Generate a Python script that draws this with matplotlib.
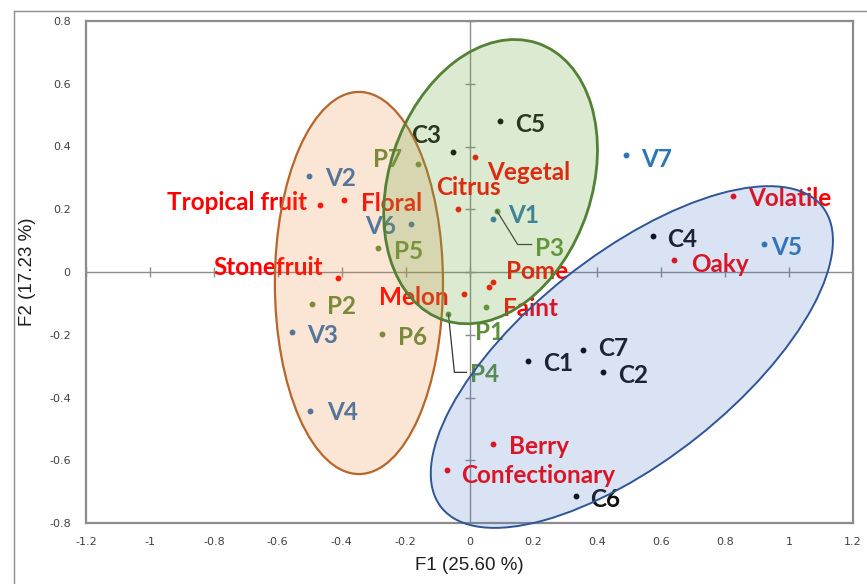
import numpy as np
import matplotlib
matplotlib.use("Agg")
import matplotlib.pyplot as plt
from matplotlib.patches import Ellipse
from matplotlib.lines import Line2D

# sensory attributes (red)
attr_names = ["Tropical fruit", "Floral", "Stonefruit", "Citrus", "Vegetal", "Pome",
              "Faint", "Melon", "Oaky", "Volatile", "Berry", "Confectionary"]
attr_x = [-0.468, -0.392, -0.412, -0.035, 0.017, 0.075, 0.061, -0.016, 0.641, 0.823, 0.073, -0.071]
attr_y = [0.214, 0.229, -0.020, 0.200, 0.368, -0.031, -0.047, -0.071, 0.038, 0.243, -0.548, -0.631]

# V products (blue)
v_names = ["V1", "V2", "V3", "V4", "V5", "V6", "V7"]
v_x = [0.075, -0.502, -0.556, -0.499, 0.922, -0.183, 0.490]
v_y = [0.168, 0.306, -0.192, -0.443, 0.089, 0.152, 0.372]

# P products (green)
p_names = ["P1", "P2", "P3", "P4", "P5", "P6", "P7"]
p_x = [0.051, -0.492, 0.085, -0.066, -0.285, -0.275, -0.162]
p_y = [-0.113, -0.102, 0.196, -0.135, 0.075, -0.199, 0.343]

# C products (black)
c_names = ["C1", "C2", "C3", "C4", "C5", "C6", "C7"]
c_x = [0.184, 0.419, -0.051, 0.573, 0.095, 0.332, 0.354]
c_y = [-0.283, -0.318, 0.383, 0.115, 0.481, -0.714, -0.249]

xticks = [-1.2, -1, -0.8, -0.6, -0.4, -0.2, 0, 0.2, 0.4, 0.6, 0.8, 1, 1.2]
yticks = [-0.8, -0.6, -0.4, -0.2, 0, 0.2, 0.4, 0.6, 0.8]

# label offsets in pixels (dx, dy, ha)
offsets = {
    "Tropical fruit": (-13, 4, "right"), "Floral": (17, -1, "left"),
    "Stonefruit": (-15, 13, "right"), "Citrus": (10, 24, "center"),
    "Vegetal": (12, -14, "left"), "Pome": (13, 12, "left"),
    "Faint": (14, -20, "left"), "Melon": (-16, -1, "right"),
    "Oaky": (17, -2, "left"), "Volatile": (16, -1, "left"),
    "Berry": (16, -1, "left"), "Confectionary": (14, -4, "left"),
    "V1": (15, 6, "left"), "V2": (16, -1, "left"), "V3": (15, -1, "left"),
    "V4": (17, 0, "left"), "V5": (7, -1, "left"), "V6": (-15, 0, "right"),
    "V7": (15, -2, "left"),
    "P1": (-11, -23, "left"), "P2": (15, 0, "left"), "P3": (38, -36, "left"),
    "P4": (22, -58, "left"), "P5": (16, -1, "left"), "P6": (16, -1, "left"),
    "P7": (-16, 7, "right"),
    "C1": (15, -1, "left"), "C2": (15, -2, "left"), "C3": (-12, 18, "right"),
    "C4": (15, -2, "left"), "C5": (15, -1, "left"), "C6": (15, -1, "left"),
    "C7": (15, 4, "left"),
}
leaders = {"P3": [(0, 0), (21, -34), (35, -34)], "P4": [(0, 0), (6, -58), (18, -58)]}

fig = plt.figure(figsize=(8.67, 5.84), dpi=100)
ax = fig.add_axes([86 / 867, 61 / 584, 767 / 867, 502 / 584])

# outer chart border
fig.add_artist(Line2D([14 / 867, 14 / 867], [0, 1 - 11 / 584], color="#8c8c8c", lw=1.0))
fig.add_artist(Line2D([14 / 867, 1], [1 - 11 / 584, 1 - 11 / 584], color="#8c8c8c", lw=1.0))

ax.set_xlim(-1.2, 1.2)
ax.set_ylim(-0.8, 0.8)
ax.set_xticks(xticks)
ax.set_yticks(yticks)
ax.set_xticklabels([f"{t:g}" for t in xticks])
ax.set_yticklabels([f"{t:g}" for t in yticks])
ax.tick_params(length=0, labelsize=8, labelcolor="#404040")
ax.tick_params(axis="x", pad=10)
ax.tick_params(axis="y", pad=11)
for lab in ax.get_xticklabels() + ax.get_yticklabels():
    lab.set_family("DejaVu Sans")
for s in ax.spines.values():
    s.set_color("#8c8c8c")
    s.set_linewidth(1.6)

# zero axes with cross ticks
ax.axhline(0, color="#8c8c8c", lw=1, zorder=1)
ax.axvline(0, color="#8c8c8c", lw=1, zorder=1)
ax.plot(xticks, np.zeros(len(xticks)), ls="none", marker="|", ms=7, mew=1, color="#8c8c8c", zorder=1)
ax.plot(np.zeros(len(yticks)), yticks, ls="none", marker="_", ms=7, mew=1, color="#8c8c8c", zorder=1)

ax.set_xlabel("F1 (25.60 %)", fontsize=13.5, family="Liberation Sans", color="#202020", labelpad=7)
ax.set_ylabel("F2 (17.23 %)", fontsize=13.5, family="Liberation Sans", color="#202020", labelpad=9)

groups = [
    (attr_names, attr_x, attr_y, "#ff0000", "#ff0000"),
    (v_names, v_x, v_y, "#2e75b6", "#2e75b6"),
    (p_names, p_x, p_y, "#5e8f3a", "#5e8f3a"),
    (c_names, c_x, c_y, "#000000", "#111111"),
]
for names, xs, ys, dot_col, txt_col in groups:
    ax.plot(xs, ys, ls="none", marker="o", ms=3.2, color=dot_col, zorder=3)
    for n, x, y in zip(names, xs, ys):
        dx, dy, ha = offsets[n]
        ax.annotate(n, (x, y), xytext=(dx, dy - 2), textcoords="offset pixels",
                    ha=ha, va="center", fontsize=17.5, fontweight="bold",
                    family="Lato", color=txt_col, zorder=3)

# leader lines for P3 / P4
for n, pts in leaders.items():
    i = p_names.index(n)
    x0, y0 = ax.transData.transform((p_x[i], p_y[i]))
    disp = [(x0 + a, y0 + b) for a, b in pts]
    data = ax.transData.inverted().transform(disp)
    ax.plot(data[:, 0], data[:, 1], color="#333333", lw=0.9, zorder=3)

# group ellipses drawn on top, semi transparent
ax.add_patch(Ellipse((-0.346, -0.035), 0.526, 1.218, angle=0,
                     facecolor=(0.93, 0.49, 0.19, 0.2), edgecolor="#b8652b", lw=1.6, zorder=4))
ax.add_patch(Ellipse((0.066, 0.288), 0.93, 0.635, angle=72,
                     facecolor=(0.44, 0.68, 0.28, 0.25), edgecolor="#538135", lw=2.0, zorder=4))
ax.add_patch(Ellipse((0.508, -0.271), 1.53, 0.655, angle=39,
                     facecolor=(0.27, 0.45, 0.77, 0.2), edgecolor="#2f5597", lw=1.4, zorder=4,
                     clip_on=False))

fig.savefig("out.png", dpi=100)
